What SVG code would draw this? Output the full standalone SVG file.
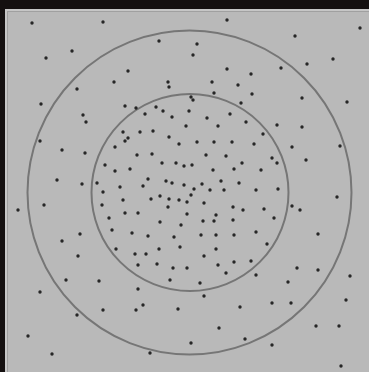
<svg xmlns="http://www.w3.org/2000/svg" width="369" height="372" viewBox="0 0 369 372">
<style>
.d{fill:#262626}
.ring{fill:none;stroke:#767676;stroke-width:2}
</style>
<rect x="0" y="0" width="369" height="372" fill="#141010"/>
<rect id="panel" x="5" y="9" width="364" height="363" fill="#c6c6c6"/>
<rect x="7.5" y="11.5" width="362" height="361" fill="#b9b9b9" stroke="#a0a0a0" stroke-width="1"/>
<circle id="outer" class="ring" cx="189.5" cy="192.5" r="162"/>
<circle id="inner" class="ring" cx="190" cy="192.5" r="98.5"/>
<g id="dots" class="d">
<circle cx="32" cy="23" r="1.7"/><circle cx="103" cy="22" r="1.7"/><circle cx="159" cy="41" r="1.7"/><circle cx="72" cy="51" r="1.7"/><circle cx="46" cy="58" r="1.7"/><circle cx="128" cy="71" r="1.7"/><circle cx="114" cy="82" r="1.7"/><circle cx="168" cy="82" r="1.7"/><circle cx="169" cy="87" r="1.7"/><circle cx="77" cy="89" r="1.7"/><circle cx="41" cy="104" r="1.7"/><circle cx="83" cy="115" r="1.7"/><circle cx="86" cy="122" r="1.7"/><circle cx="40" cy="141" r="1.7"/><circle cx="62" cy="150" r="1.7"/><circle cx="85" cy="153" r="1.7"/><circle cx="57" cy="180" r="1.7"/><circle cx="82" cy="184" r="1.7"/><circle cx="18" cy="210" r="1.7"/><circle cx="44" cy="205" r="1.7"/><circle cx="80" cy="234" r="1.7"/><circle cx="62" cy="241" r="1.7"/><circle cx="78" cy="256" r="1.7"/><circle cx="66" cy="280" r="1.7"/><circle cx="40" cy="292" r="1.7"/><circle cx="77" cy="315" r="1.7"/><circle cx="28" cy="336" r="1.7"/><circle cx="52" cy="354" r="1.7"/><circle cx="150" cy="353" r="1.7"/><circle cx="103" cy="310" r="1.7"/><circle cx="136" cy="310" r="1.7"/><circle cx="143" cy="305" r="1.7"/><circle cx="178" cy="309" r="1.7"/><circle cx="99" cy="281" r="1.7"/>
<circle cx="227" cy="20" r="1.7"/><circle cx="360" cy="28" r="1.7"/><circle cx="295" cy="36" r="1.7"/><circle cx="197" cy="44" r="1.7"/><circle cx="193" cy="55" r="1.7"/><circle cx="333" cy="59" r="1.7"/><circle cx="307" cy="64" r="1.7"/><circle cx="281" cy="68" r="1.7"/><circle cx="227" cy="69" r="1.7"/><circle cx="251" cy="74" r="1.7"/><circle cx="212" cy="82" r="1.7"/><circle cx="238" cy="85" r="1.7"/><circle cx="302" cy="98" r="1.7"/><circle cx="347" cy="102" r="1.7"/><circle cx="302" cy="127" r="1.7"/><circle cx="292" cy="147" r="1.7"/><circle cx="340" cy="146" r="1.7"/><circle cx="306" cy="160" r="1.7"/>
<circle cx="337" cy="197" r="1.7"/><circle cx="292" cy="206" r="1.7"/><circle cx="300" cy="210" r="1.7"/><circle cx="318" cy="234" r="1.7"/><circle cx="297" cy="268" r="1.7"/><circle cx="318" cy="270" r="1.7"/><circle cx="350" cy="276" r="1.7"/><circle cx="288" cy="282" r="1.7"/><circle cx="204" cy="296" r="1.7"/><circle cx="240" cy="307" r="1.7"/><circle cx="272" cy="303" r="1.7"/><circle cx="291" cy="303" r="1.7"/><circle cx="346" cy="300" r="1.7"/><circle cx="219" cy="328" r="1.7"/><circle cx="245" cy="339" r="1.7"/><circle cx="191" cy="343" r="1.7"/><circle cx="272" cy="345" r="1.7"/><circle cx="316" cy="326" r="1.7"/><circle cx="339" cy="326" r="1.7"/><circle cx="341" cy="366" r="1.7"/>
<circle cx="125" cy="106" r="1.7"/><circle cx="136" cy="108" r="1.7"/><circle cx="156" cy="107" r="1.7"/><circle cx="163" cy="111" r="1.7"/><circle cx="145" cy="114" r="1.7"/><circle cx="172" cy="117" r="1.7"/><circle cx="189" cy="111" r="1.7"/><circle cx="186" cy="126" r="1.7"/><circle cx="123" cy="132" r="1.7"/><circle cx="128" cy="138" r="1.7"/><circle cx="125" cy="141" r="1.7"/><circle cx="140" cy="132" r="1.7"/><circle cx="153" cy="131" r="1.7"/><circle cx="169" cy="137" r="1.7"/><circle cx="179" cy="144" r="1.7"/><circle cx="115" cy="147" r="1.7"/><circle cx="137" cy="155" r="1.7"/><circle cx="152" cy="154" r="1.7"/><circle cx="162" cy="163" r="1.7"/><circle cx="176" cy="163" r="1.7"/><circle cx="184" cy="166" r="1.7"/><circle cx="105" cy="165" r="1.7"/><circle cx="115" cy="171" r="1.7"/><circle cx="130" cy="169" r="1.7"/><circle cx="148" cy="179" r="1.7"/><circle cx="166" cy="181" r="1.7"/><circle cx="172" cy="183" r="1.7"/><circle cx="184" cy="185" r="1.7"/><circle cx="97" cy="183" r="1.7"/><circle cx="120" cy="187" r="1.7"/><circle cx="143" cy="186" r="1.7"/><circle cx="103" cy="192" r="1.7"/>
<circle cx="214" cy="93" r="1.7"/><circle cx="252" cy="94" r="1.7"/><circle cx="191" cy="97" r="1.7"/><circle cx="193" cy="100" r="1.7"/><circle cx="241" cy="103" r="1.7"/><circle cx="207" cy="118" r="1.7"/><circle cx="230" cy="114" r="1.7"/><circle cx="246" cy="122" r="1.7"/><circle cx="218" cy="126" r="1.7"/><circle cx="277" cy="125" r="1.7"/><circle cx="263" cy="134" r="1.7"/><circle cx="197" cy="142" r="1.7"/><circle cx="214" cy="142" r="1.7"/><circle cx="232" cy="142" r="1.7"/><circle cx="254" cy="144" r="1.7"/><circle cx="206" cy="155" r="1.7"/><circle cx="226" cy="156" r="1.7"/><circle cx="272" cy="158" r="1.7"/><circle cx="277" cy="163" r="1.7"/><circle cx="192" cy="165" r="1.7"/><circle cx="242" cy="163" r="1.7"/><circle cx="213" cy="170" r="1.7"/><circle cx="234" cy="169" r="1.7"/><circle cx="261" cy="170" r="1.7"/><circle cx="221" cy="181" r="1.7"/><circle cx="239" cy="183" r="1.7"/><circle cx="202" cy="184" r="1.7"/><circle cx="194" cy="189" r="1.7"/><circle cx="210" cy="190" r="1.7"/><circle cx="224" cy="190" r="1.7"/><circle cx="256" cy="190" r="1.7"/><circle cx="278" cy="189" r="1.7"/>
<circle cx="123" cy="200" r="1.7"/><circle cx="151" cy="199" r="1.7"/><circle cx="160" cy="196" r="1.7"/><circle cx="169" cy="199" r="1.7"/><circle cx="179" cy="200" r="1.7"/><circle cx="187" cy="202" r="1.7"/><circle cx="102" cy="205" r="1.7"/><circle cx="168" cy="207" r="1.7"/><circle cx="125" cy="213" r="1.7"/><circle cx="138" cy="213" r="1.7"/><circle cx="187" cy="214" r="1.7"/><circle cx="109" cy="218" r="1.7"/><circle cx="160" cy="222" r="1.7"/><circle cx="181" cy="225" r="1.7"/><circle cx="112" cy="230" r="1.7"/><circle cx="132" cy="233" r="1.7"/><circle cx="148" cy="236" r="1.7"/><circle cx="174" cy="237" r="1.7"/><circle cx="180" cy="247" r="1.7"/><circle cx="159" cy="249" r="1.7"/><circle cx="116" cy="249" r="1.7"/><circle cx="135" cy="254" r="1.7"/><circle cx="146" cy="254" r="1.7"/><circle cx="138" cy="265" r="1.7"/><circle cx="157" cy="264" r="1.7"/><circle cx="173" cy="268" r="1.7"/><circle cx="187" cy="268" r="1.7"/><circle cx="170" cy="280" r="1.7"/><circle cx="138" cy="289" r="1.7"/>
<circle cx="191" cy="195" r="1.7"/><circle cx="204" cy="203" r="1.7"/><circle cx="233" cy="207" r="1.7"/><circle cx="243" cy="210" r="1.7"/><circle cx="264" cy="209" r="1.7"/><circle cx="216" cy="215" r="1.7"/><circle cx="203" cy="221" r="1.7"/><circle cx="214" cy="221" r="1.7"/><circle cx="233" cy="220" r="1.7"/><circle cx="274" cy="218" r="1.7"/><circle cx="201" cy="235" r="1.7"/><circle cx="216" cy="235" r="1.7"/><circle cx="234" cy="235" r="1.7"/><circle cx="256" cy="232" r="1.7"/><circle cx="267" cy="244" r="1.7"/><circle cx="216" cy="249" r="1.7"/><circle cx="204" cy="256" r="1.7"/><circle cx="251" cy="261" r="1.7"/><circle cx="234" cy="262" r="1.7"/><circle cx="218" cy="265" r="1.7"/><circle cx="226" cy="273" r="1.7"/><circle cx="256" cy="275" r="1.7"/><circle cx="200" cy="283" r="1.7"/>
</g>
</svg>
